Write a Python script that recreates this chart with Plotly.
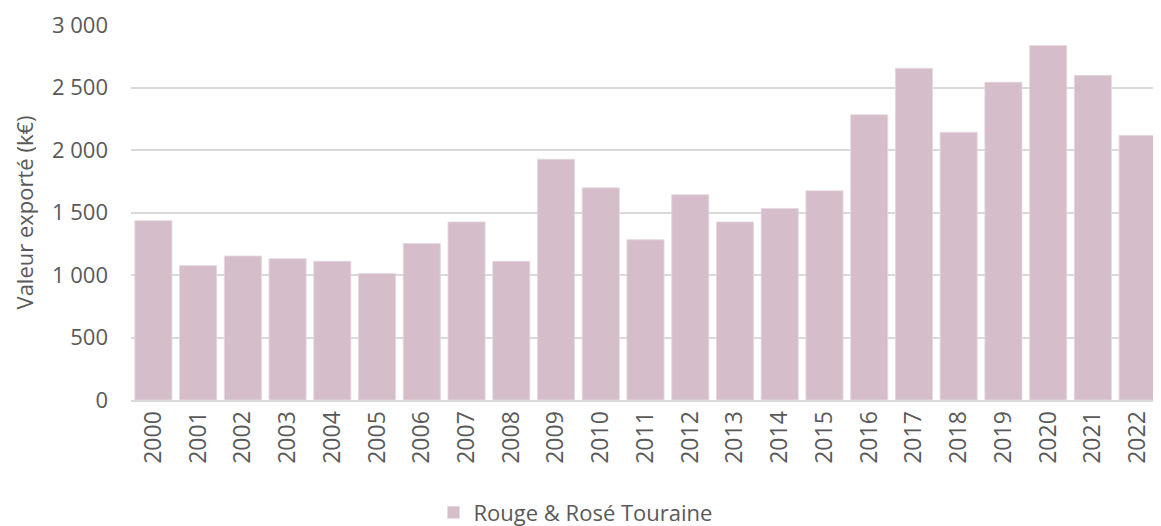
import plotly.graph_objects as go

years = [str(y) for y in range(2000, 2023)]
values = [1435, 1076, 1152, 1131, 1110, 1013, 1252, 1425, 1110, 1927, 1698,
          1283, 1643, 1425, 1533, 1675, 2283, 2654, 2142, 2543, 2837, 2598, 2118]
series_name = "Rouge & Rosé Touraine"
y_title = "Valeur exporté (k€)"
y_ticks = [0, 500, 1000, 1500, 2000, 2500, 3000]

bar_color = "#D5BECA"
text_color = "#595959"
grid_color = "#D9D9D9"
font_family = "Open Sans, Lato, sans-serif"

fig = go.Figure()
fig.add_trace(go.Bar(
    x=years, y=values, name=series_name,
    marker=dict(color=bar_color, line=dict(color="#E6D8E0", width=0.8)),
    showlegend=True,
))

# page body has an 8px default margin: figure is sized to fit the window
fig.update_layout(
    width=1153, height=518,
    margin=dict(l=123, r=1, t=17, b=126, autoexpand=False),
    paper_bgcolor="white", plot_bgcolor="white",
    separators=", ",
    bargap=0.17,
    font=dict(family=font_family, color=text_color, size=22),
    showlegend=True,
    legend=dict(orientation="h", xref="paper", yref="paper",
                x=0.432, xanchor="center", y=-0.3, yanchor="middle",
                font=dict(size=22, color=text_color),
                itemwidth=30, traceorder="normal"),
    annotations=[dict(
        text=y_title, xref="paper", yref="paper",
        x=-0.104, y=0.5, xanchor="center", yanchor="middle",
        textangle=-90, showarrow=False,
        font=dict(size=22, color=text_color, family=font_family),
    )],
)
fig.update_xaxes(
    type="category", tickangle=-90, showgrid=False, automargin=False,
    tickfont=dict(size=23, color=text_color),
    ticks="", showline=True, linecolor=grid_color, linewidth=2,
)
fig.update_yaxes(
    range=[0, 3001], tickvals=y_ticks, tickformat=",", automargin=False,
    ticklabeloverflow="allow",
    showgrid=True, gridcolor=grid_color, gridwidth=2,
    zeroline=False, showline=False, ticks="",
    tickfont=dict(size=22, color=text_color),
    ticklabelstandoff=22,
)

fig.write_html("out.html")
